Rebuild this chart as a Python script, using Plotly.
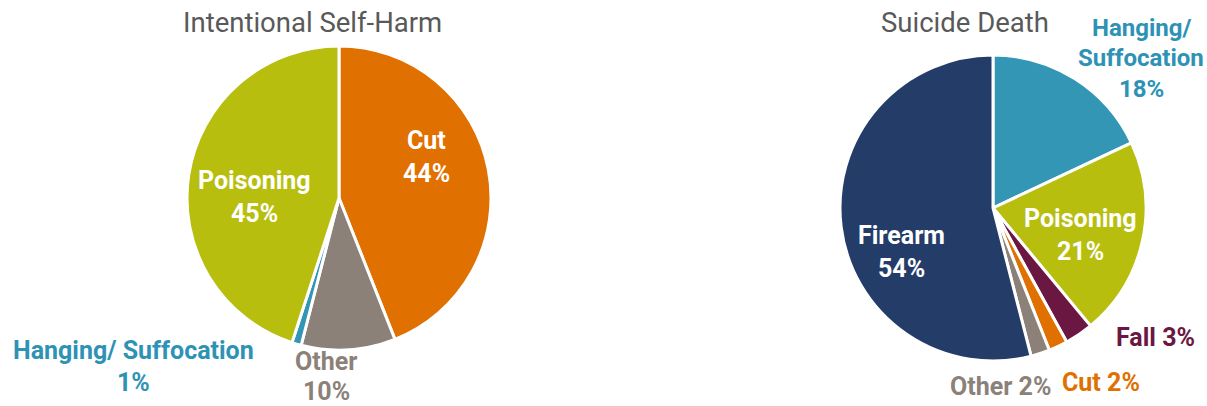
import plotly.graph_objects as go

# Data
harm_labels = ["Cut", "Other", "Hanging/ Suffocation", "Poisoning"]
harm_values = [44, 10, 1, 45]
harm_colors = ["#E07000", "#8B8178", "#3396B5", "#B7BE0E"]

death_labels = ["Hanging/ Suffocation", "Poisoning", "Fall", "Cut", "Other", "Firearm"]
death_values = [18, 21, 3, 2, 2, 54]
death_colors = ["#3396B5", "#B7BE0E", "#6A1842", "#E07000", "#8B8178", "#243C68"]

LBL_FONT = "Roboto, Arial, sans-serif"
TITLE_FONT = "Roboto, Arial, sans-serif"

fig = go.Figure()
fig.add_trace(go.Pie(
    labels=harm_labels, values=harm_values, sort=False, direction="clockwise", rotation=0,
    marker=dict(colors=harm_colors, line=dict(color="white", width=3)),
    textinfo="none", hoverinfo="label+percent", showlegend=False,
    domain=dict(x=[(339 - 152) / 1207, (339 + 152) / 1207], y=[1 - 350 / 406, 1 - 46 / 406]),
))
fig.add_trace(go.Pie(
    labels=death_labels, values=death_values, sort=False, direction="clockwise", rotation=0,
    marker=dict(colors=death_colors, line=dict(color="white", width=3)),
    textinfo="none", hoverinfo="label+percent", showlegend=False,
    domain=dict(x=[(993 - 153) / 1207, (993 + 153) / 1207], y=[1 - 361 / 406, 1 - 55 / 406]),
))

def px(x, y):
    return x / 1207, 1 - y / 406

annos = []
def add(text, x, y, color, size=25, family=LBL_FONT, bold=True):
    ax, ay = px(x, y)
    t = f"<b>{text}</b>" if bold else text
    annos.append(dict(text=t, x=ax, y=ay, xref="paper", yref="paper", showarrow=False,
                      xanchor="center", yanchor="middle",
                      font=dict(family=family, size=size, color=color)))

def add2(lines, x, ys, color, size=25):
    for t, y in zip(lines, ys):
        add(t, x, y, color, size=size)

# Titles
add("Intentional Self-Harm", 312, 23, "#595959", size=27.5, family=TITLE_FONT, bold=False)
add("Suicide Death", 965, 23, "#595959", size=27.5, family=TITLE_FONT, bold=False)

# Left pie labels
add2([harm_labels[0], f"{harm_values[0]}%"], 426, [140, 173], "white")
add2([harm_labels[3], f"{harm_values[3]}%"], 254, [180, 213], "white")
add2([harm_labels[2], f"{harm_values[2]}%"], 133, [350, 382], "#2E92B5")
add2([harm_labels[1], f"{harm_values[1]}%"], 326, [361, 391], "#8B8178")

# Right pie labels
add2(["Hanging/", "Suffocation", f"{death_values[0]}%"], 1141, [28, 58, 89], "#2E92B5", size=24)
add2([death_labels[1], f"{death_values[1]}%"], 1080, [218, 251], "white")
add2([death_labels[5], f"{death_values[5]}%"], 901, [235, 268], "white")
add(f"{death_labels[2]} {death_values[2]}%", 1155, 337, "#6A1842")
add(f"{death_labels[3]} {death_values[3]}%", 1101, 382, "#E07000")
add(f"{death_labels[4]} {death_values[4]}%", 1000, 386, "#8B8178")

fig.update_layout(
    width=1207, height=406, margin=dict(l=0, r=0, t=0, b=0),
    paper_bgcolor="white", plot_bgcolor="white", annotations=annos,
)
fig.write_html("out.html")
